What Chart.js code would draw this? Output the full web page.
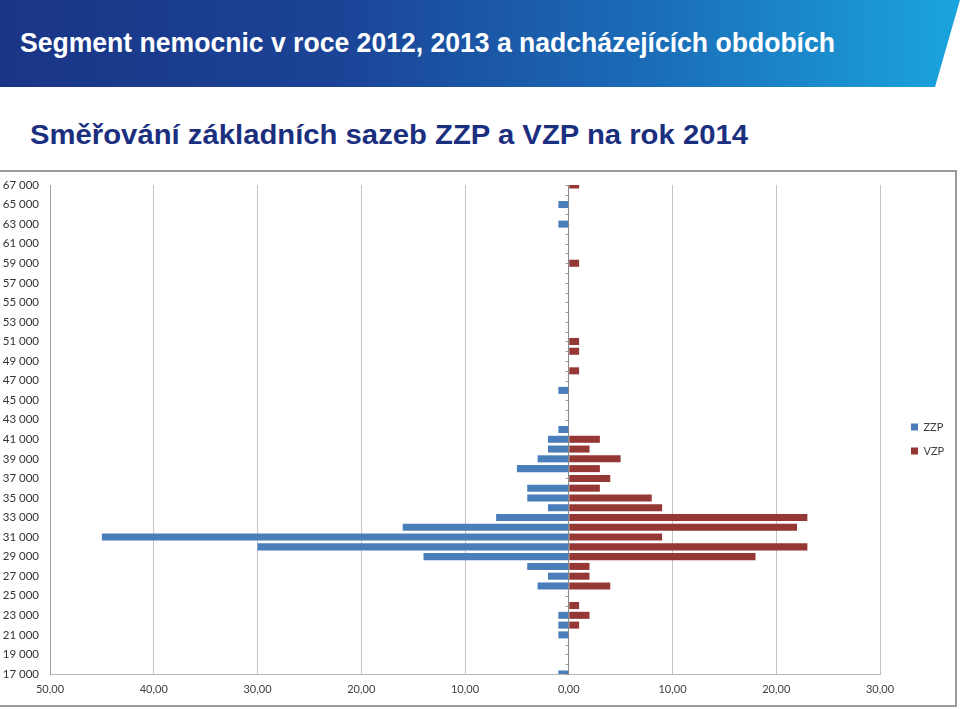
<!DOCTYPE html>
<html lang="cs">
<head>
<meta charset="utf-8">
<title>Směřování základních sazeb ZZP a VZP na rok 2014</title>
<script src="https://cdn.jsdelivr.net/npm/chart.js@4.4.1/dist/chart.umd.min.js"></script>
<style>
    body { margin: 0; width: 960px; height: 709px; background: #fff; overflow: hidden; position: relative; font-family: "Liberation Sans", Arial, sans-serif; }
    #banner { position: absolute; left: 0; top: 0; width: 960px; height: 87px;
        background: linear-gradient(to right, #1a3586 0%, #1b4396 35%, #1b6db8 68%, #1aa4dd 100%);
        clip-path: polygon(0 0, 960px 0, 935px 87px, 0 87px); }
    .head { position: absolute; font-weight: bold; font-size: 28px; line-height: 28px; white-space: nowrap; transform-origin: 0 0; }
    #title { left: 20px; top: 29px; color: #fff; }
    #subtitle { left: 30px; top: 121px; color: #1b2f7f; }
    #frame { position: absolute; left: -2px; top: 170px; width: 955px; height: 533px; border: 2px solid #9a9a9a; }
    #wrap { position: absolute; left: 0; top: 172px; width: 955px; height: 533px; }
</style>
</head>
<body>
<div id="banner"></div>
<div id="title" class="head" data-w="815">Segment nemocnic v roce 2012, 2013 a nadcházejících obdobích</div>
<div id="subtitle" class="head" data-w="718">Směřování základních sazeb ZZP a VZP na rok 2014</div>
<div id="frame"></div>
<div id="wrap"><canvas id="chart"></canvas></div>
<script>
// base rate categories, 17 000 .. 67 000 by 1 000 (bottom to top)
const categories = [];
for (let c = 17000; c <= 67000; c += 1000) categories.push(c);

// counts per category, same order as categories
const zzpValues = [
    1, 0, 0, 0, 1, 1, 1, 0, 0, 3,      // 17 000 - 26 000
    2, 4, 14, 30, 45, 16, 7, 2, 4, 4,  // 27 000 - 36 000
    0, 5, 3, 2, 2, 1, 0, 0, 0, 1,      // 37 000 - 46 000
    0, 0, 0, 0, 0, 0, 0, 0, 0, 0,      // 47 000 - 56 000
    0, 0, 0, 0, 0, 0, 1, 0, 1, 0,      // 57 000 - 66 000
    0                                  // 67 000
];
const vzpValues = [
    0, 0, 0, 0, 0, 1, 2, 1, 0, 4,
    2, 2, 18, 23, 9, 22, 23, 9, 8, 3,
    4, 3, 5, 2, 3, 0, 0, 0, 0, 0,
    0, 1, 0, 1, 1, 0, 0, 0, 0, 0,
    0, 0, 1, 0, 0, 0, 0, 0, 0, 0,
    1
];
const seriesNames = ["ZZP", "VZP"];

// fit headings to the width they take in the slide
document.querySelectorAll(".head").forEach(el => {
    const w = el.getBoundingClientRect().width;
    el.style.transform = `scaleX(${el.dataset.w / w})`;
});

const fmtThousands = c => String(c).replace(/\B(?=(\d{3})+(?!\d))/g, " ");

Chart.defaults.font.family = "Lato, 'Open Sans', sans-serif";
Chart.defaults.font.size = 11;
Chart.defaults.color = "#404040";

// small tick marks along the zero axis, one per category
const zeroAxisTicks = {
    id: "zeroAxisTicks",
    beforeDatasetsDraw(chart) {
        const { ctx, scales: { x, y } } = chart;
        const x0 = Math.round(x.getPixelForValue(0)) + 0.5;
        ctx.save();
        ctx.strokeStyle = "#9a9a9a";
        ctx.lineWidth = 1;
        ctx.beginPath();
        categories.forEach((c, i) => {
            const py = Math.round(y.getPixelForValue(i)) + 0.5;
            ctx.moveTo(x0 - 4, py);
            ctx.lineTo(x0, py);
        });
        ctx.stroke();
        ctx.restore();
    }
};

// legend sits further right than chart.js puts it; keep it at a fixed height
const legendNudge = {
    id: "legendNudge",
    afterLayout(chart) {
        const lg = chart.legend;
        const h = lg.bottom - lg.top;
        lg.left += 18; lg.right += 18;
        lg.top = 7; lg.bottom = 7 + h;
    }
};

const chart = new Chart(document.getElementById("chart"), {
    type: "bar",
    data: {
        labels: categories,
        datasets: [
            {
                label: seriesNames[0],
                data: zzpValues.map(v => v ? -v : null),
                backgroundColor: "#4a7ebb"
            },
            {
                label: seriesNames[1],
                data: vzpValues.map(v => v || null),
                backgroundColor: "#953735"
            }
        ]
    },
    options: {
        indexAxis: "y",
        responsive: true,
        maintainAspectRatio: false,
        animation: false,
        categoryPercentage: 0.72,
        barPercentage: 1,
        layout: { padding: { top: 13, right: 20, bottom: 0, left: 0 } },
        scales: {
            x: {
                stacked: true,
                min: -50,
                max: 30,
                afterFit: s => { s.height = 31; },
                ticks: {
                    stepSize: 10,
                    padding: 9,
                    callback: v => Math.abs(v).toFixed(2).replace(".", ",")
                },
                grid: {
                    drawTicks: false,
                    color: ctx => ctx.tick && ctx.tick.value === 0 ? "#8a8a8a" : "#c4c4c4"
                },
                border: { color: "#b8b8b8" }
            },
            y: {
                type: "category",
                stacked: true,
                reverse: true,
                offset: false,
                afterFit: s => { s.width = 50; s.paddingTop = 0; s.paddingBottom = 0; },
                grid: { display: false, drawTicks: false },
                border: { color: "#a0a0a0" },
                ticks: {
                    autoSkip: false,
                    padding: 11,
                    color: "#333333",
                    font: { size: 11.5 },
                    callback: function (value) {
                        const c = this.getLabelForValue(value);
                        return (c - 17000) % 2000 === 0 ? fmtThousands(c) : "";
                    }
                }
            }
        },
        plugins: {
            legend: {
                position: "right",
                labels: { boxWidth: 7, boxHeight: 7, padding: 13, color: "#404040", font: { size: 11 } }
            },
            tooltip: { enabled: false }
        }
    },
    plugins: [zeroAxisTicks, legendNudge]
});

// keep the plot's right edge where the slide has it
const pad = chart.options.layout.padding;
const drift = chart.chartArea.right - 880;
if (drift !== 0) {
    pad.right += drift;
    chart.update("none");
}
</script>
</body>
</html>
